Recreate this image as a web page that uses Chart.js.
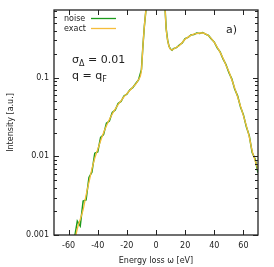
<!DOCTYPE html>
<html>
<head>
<meta charset="utf-8">
<script src="https://cdn.jsdelivr.net/npm/chart.js@4.4.0/dist/chart.umd.min.js"></script>
<style>
  html, body { margin: 0; padding: 0; background: #fff; }
  #wrap { width: 274px; height: 267px; }
</style>
</head>
<body>
<div id="wrap"><canvas id="lossChart" width="274" height="267"></canvas></div>
<script>
// energy loss grid [eV]
const energy = [-56, -54, -52, -50, -48, -46, -44, -42, -40, -38, -36, -34, -32, -30, -28, -26, -24, -22, -20,
    -18, -16, -14, -12, -10, -9, -8, -7, -6, -4, -2, 0, 2, 4, 6, 7, 8, 9, 10, 11, 12, 14, 16, 18, 20,
    22, 24, 26, 28, 30, 32, 34, 36, 38, 40, 42, 44, 46, 48, 50, 52, 54, 56, 58, 60, 62, 64, 66, 68, 70];

// smooth reference spectrum
const exactValues = [0.0008, 0.0012, 0.00158, 0.0021, 0.0032, 0.0047, 0.0069, 0.0095, 0.0123, 0.0158, 0.020, 0.0245,
    0.0295, 0.0347, 0.040, 0.0457, 0.051, 0.0575, 0.063, 0.069, 0.076, 0.083, 0.095, 0.126, 0.25, 0.45, 0.7, 1.1,
    2.5, 5, 6, 4, 2, 0.9, 0.42, 0.30, 0.25, 0.23, 0.226, 0.232, 0.245, 0.257, 0.282, 0.31, 0.33, 0.347, 0.359,
    0.366, 0.372, 0.372, 0.363, 0.343, 0.316, 0.282, 0.245, 0.211, 0.178, 0.145, 0.12, 0.095, 0.074, 0.0575,
    0.0437, 0.033, 0.0245, 0.0178, 0.0117, 0.0089, 0.0068];

// same spectrum with noise added
const noiseValues = [0.0009, 0.0015, 0.0013, 0.0027, 0.0028, 0.0054, 0.0063, 0.0110, 0.0114, 0.0175, 0.0189, 0.0265,
    0.0282, 0.0364, 0.0390, 0.0472, 0.0500, 0.0588, 0.0620, 0.0702, 0.0750, 0.0842, 0.0943, 0.127, 0.25, 0.45, 0.7, 1.1,
    2.5, 5, 6, 4, 2, 0.9, 0.42, 0.30, 0.25, 0.232, 0.224, 0.236, 0.242, 0.262, 0.278, 0.315, 0.327, 0.352, 0.356,
    0.372, 0.368, 0.376, 0.360, 0.346, 0.312, 0.285, 0.241, 0.214, 0.174, 0.148, 0.117, 0.097, 0.072, 0.0590,
    0.0425, 0.0338, 0.0238, 0.0184, 0.0112, 0.0093, 0.0062];

const xTicks = [-60, -40, -20, 0, 20, 40, 60];
const yTicks = [0.001, 0.01, 0.1];
const yTickLabels = ['0.001', '0.01', '0.1'];

const FONT = 'DejaVu Sans';
const GREEN = '#1c9a1c';
const ORANGE = '#f5bd3a';

// frame, inward ticks, legend and notes in gnuplot style
const gnuplotFrame = {
    id: 'gnuplotFrame',
    afterDraw(chart) {
        const { ctx, chartArea: a, scales } = chart;
        const xs = scales.x, ys = scales.y;
        ctx.save();
        ctx.strokeStyle = '#222';
        ctx.lineWidth = 1;

        ctx.beginPath();
        xTicks.forEach(v => {
            const px = Math.round(xs.getPixelForValue(v)) + 0.5;
            ctx.moveTo(px, a.bottom); ctx.lineTo(px, a.bottom - 5);
            ctx.moveTo(px, a.top); ctx.lineTo(px, a.top + 5);
        });
        yTicks.forEach(v => {
            for (let m = 1; m <= 9; m++) {
                const val = v * m;
                if (val > ys.max) break;
                const len = m === 1 ? 5 : 3;
                const py = Math.round(ys.getPixelForValue(val)) + 0.5;
                ctx.moveTo(a.left, py); ctx.lineTo(a.left + len, py);
                ctx.moveTo(a.right, py); ctx.lineTo(a.right - len, py);
            }
        });
        ctx.stroke();

        ctx.lineWidth = 1.3;
        ctx.strokeRect(a.left, a.top, a.right - a.left, a.bottom - a.top);

        // legend
        ctx.fillStyle = '#222';
        ctx.font = '8px "' + FONT + '"';
        ctx.textBaseline = 'middle';
        ctx.textAlign = 'left';
        const items = [['noise', GREEN], ['exact', ORANGE]];
        items.forEach((it, i) => {
            const y = a.top + 8.5 + i * 10;
            ctx.fillText(it[0], a.left + 10, y);
            ctx.strokeStyle = it[1];
            ctx.lineWidth = 1.3;
            ctx.beginPath();
            ctx.moveTo(a.left + 37, y); ctx.lineTo(a.left + 62, y);
            ctx.stroke();
        });

        // annotations
        ctx.textBaseline = 'alphabetic';
        ctx.font = '11px "' + FONT + '"';
        let x = a.left + 18;
        ctx.fillText('σ', x, 63);
        x += ctx.measureText('σ').width;
        ctx.font = '8px "' + FONT + '"';
        ctx.fillText('Δ', x, 66);
        x += ctx.measureText('Δ').width;
        ctx.font = '11px "' + FONT + '"';
        ctx.fillText(' = 0.01', x, 63);

        x = a.left + 18;
        ctx.fillText('q = q', x, 79);
        x += ctx.measureText('q = q').width;
        ctx.font = '8px "' + FONT + '"';
        ctx.fillText('F', x, 82);

        ctx.font = '11px "' + FONT + '"';
        ctx.fillText('a)', 226, 33);
        ctx.restore();
    }
};

const ctx = document.getElementById('lossChart').getContext('2d');
new Chart(ctx, {
    type: 'line',
    data: {
        datasets: [{
            label: 'exact',
            data: energy.map((e, i) => ({ x: e, y: exactValues[i] })),
            borderColor: ORANGE,
            borderWidth: 1.3,
            pointRadius: 0,
            cubicInterpolationMode: 'monotone',
            fill: false,
            order: 0
        }, {
            label: 'noise',
            data: energy.map((e, i) => ({ x: e, y: noiseValues[i] })),
            borderColor: GREEN,
            borderWidth: 1.5,
            pointRadius: 0,
            tension: 0,
            fill: false,
            order: 1
        }]
    },
    options: {
        responsive: false,
        animation: false,
        layout: { padding: { top: 10, right: 16, left: 0, bottom: 0 } },
        plugins: { legend: { display: false }, tooltip: { enabled: false } },
        scales: {
            x: {
                type: 'linear',
                min: -70,
                max: 70,
                afterBuildTicks: axis => { axis.ticks = xTicks.map(v => ({ value: v })); },
                afterFit: axis => { axis.height = 32; },
                grid: { display: false, drawTicks: false },
                border: { display: false },
                ticks: {
                    color: '#222',
                    padding: 6,
                    maxRotation: 0,
                    autoSkip: false,
                    font: { family: FONT, size: 8 },
                    callback: v => String(v)
                },
                title: {
                    display: true,
                    text: 'Energy loss ω [eV]',
                    color: '#222',
                    padding: { top: 0, bottom: 1 },
                    font: { family: FONT, size: 8 }
                }
            },
            y: {
                type: 'logarithmic',
                min: 0.001,
                max: 0.73,
                afterBuildTicks: axis => { axis.ticks = yTicks.map(v => ({ value: v })); },
                afterFit: axis => { axis.width = 54; },
                grid: { display: false, drawTicks: false },
                border: { display: false },
                ticks: {
                    color: '#222',
                    padding: 5,
                    autoSkip: false,
                    font: { family: FONT, size: 8 },
                    callback: (v, i) => yTickLabels[i]
                },
                title: {
                    display: true,
                    text: 'Intensity [a.u.]',
                    color: '#222',
                    padding: { top: 6, bottom: 0 },
                    font: { family: FONT, size: 8 }
                }
            }
        }
    },
    plugins: [gnuplotFrame]
});
</script>
</body>
</html>
